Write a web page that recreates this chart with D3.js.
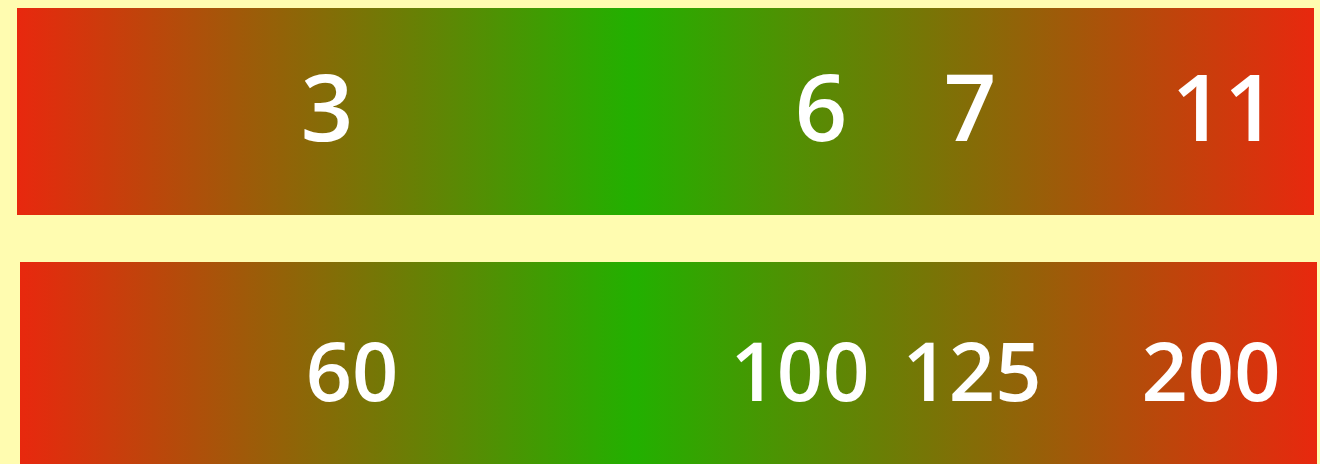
<!DOCTYPE html>
<html>
<head>
<meta charset="utf-8">
<script src="https://cdn.jsdelivr.net/npm/d3@7"></script>
<style>
  html, body { margin: 0; padding: 0; background: #fffcb0; overflow: hidden; }
  svg { display: block; }
  .lbl { fill: #fff; font-family: "Open Sans", sans-serif; font-weight: 650; text-anchor: middle; }
</style>
</head>
<body>
<script>
// DATA
var bars = ['count', 'amount'];
var countValues = [3, 6, 7, 11];
var amountValues = [60, 100, 125, 200];
var gradientColors = ['#e8280e', '#22b000', '#e8280e'];

var width = 1320;
var height = 464;

var svg = d3.select('body').append('svg')
  .attr('width', width)
  .attr('height', height);

// red -> green -> red, green a bit left of centre
var grad = svg.append('defs').append('linearGradient')
  .attr('id', 'rg')
  .attr('x1', '0%').attr('x2', '100%')
  .attr('y1', '0%').attr('y2', '0%');
grad.selectAll('stop')
  .data(gradientColors)
  .enter().append('stop')
  .attr('offset', function(d, i) { return [0, 0.474, 1][i]; })
  .attr('stop-color', function(d) { return d; });

// layout for each bar
var layout = [
  { x: 17, y: 8, w: 1297, h: 207, size: 92, base: 141, values: countValues,
    stops: [0.2391, 0.6199, 0.7348, 0.9306] },
  { x: 20, y: 262, w: 1297, h: 210, size: 81, base: 401, values: amountValues,
    stops: [0.2560, 0.6014, 0.7340, 0.9183] }
];

bars.forEach(function(name, i) {
  var L = layout[i];
  var g = svg.append('g').attr('class', 'bar-' + name);

  g.append('rect')
    .attr('x', L.x)
    .attr('y', L.y)
    .attr('width', L.w)
    .attr('height', L.h)
    .attr('fill', 'url(#rg)');

  // piecewise scale: value -> position along the bar
  var x = d3.scaleLinear()
    .domain(L.values)
    .range(L.stops.map(function(f) { return L.x + f * L.w; }));

  g.selectAll('text')
    .data(L.values)
    .enter().append('text')
    .attr('class', 'lbl')
    .attr('x', function(d) { return x(d); })
    .attr('y', L.base)
    .style('font-size', L.size + 'px')
    .text(function(d) { return d; });
});
</script>
</body>
</html>
